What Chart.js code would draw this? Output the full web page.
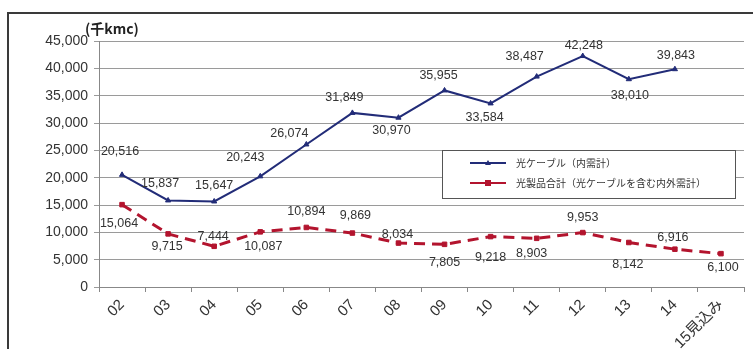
<!DOCTYPE html>
<html lang="ja">
<head>
<meta charset="utf-8">
<title>光ケーブル・光製品 出荷量推移</title>
<script src="https://cdn.jsdelivr.net/npm/chart.js@4.4.1/dist/chart.umd.min.js"></script>
<style>
  html, body { margin: 0; padding: 0; background: #ffffff; }
  #wrap { position: relative; width: 753px; height: 349px; overflow: hidden; }
  #frame {
    position: absolute; left: 7px; top: 12px; right: -4px; bottom: -4px;
    border-top: 2px solid #3a3a3a; border-left: 2px solid #3a3a3a;
    pointer-events: none;
  }
  canvas { position: absolute; left: 0; top: 0; }
</style>
</head>
<body>
<div id="wrap">
  <canvas id="c" width="753" height="349"></canvas>
  <div id="frame"></div>
</div>
<script>
// Fiscal years (last one is an outlook figure)
const categories = ['02', '03', '04', '05', '06', '07', '08', '09', '10', '11', '12', '13', '14', '15見込み'];

// 光ケーブル（内需計）, 千kmc
const cableDomestic = [20516, 15837, 15647, 20243, 26074, 31849, 30970, 35955, 33584, 38487, 42248, 38010, 39843, null];

// 光製品合計（光ケーブルを含む内外需計）, 千kmc
const productsTotal = [15064, 9715, 7444, 10087, 10894, 9869, 8034, 7805, 9218, 8903, 9953, 8142, 6916, 6100];

const seriesNames = ['光ケーブル（内需計）', '光製品合計（光ケーブルを含む内外需計）'];
const unitLabel = '(千kmc)';

// Value-label offsets from each point, in pixels [dx, dy]
const labelOffsets = [
  [[-2,-23],[-8,-17],[0,-16],[-15,-19],[-17,-11],[-8,-15],[-7,13],[-6,-15],[-6,14],[-12,-20],[1,-10],[1,16],[1,-14],[0,0]],
  [[-3,19],[-1,13],[-1,-10],[3,15],[0,-16],[3,-18],[-1,-9],[0,18],[0,21],[-5,15],[0,-15],[-1,22],[-2,-12],[2,14]]
];

const FONT = '"Liberation Sans", Arial, "Noto Sans CJK JP", sans-serif';
const JP_FONT = '"Noto Sans CJK JP", "Liberation Sans", sans-serif';
const fmt = v => v.toLocaleString('en-US');

// Numbers beside every point
const valueLabels = {
  id: 'valueLabels',
  afterDatasetsDraw(chart) {
    const ctx = chart.ctx;
    ctx.save();
    ctx.font = '12.5px ' + FONT;
    ctx.fillStyle = '#333333';
    ctx.textAlign = 'center';
    ctx.textBaseline = 'middle';
    chart.data.datasets.forEach((ds, di) => {
      const meta = chart.getDatasetMeta(di);
      meta.data.forEach((pt, i) => {
        const v = ds.data[i];
        if (v === null || v === undefined) return;
        const [dx, dy] = labelOffsets[di][i];
        ctx.fillText(fmt(v), pt.x + dx, pt.y + dy);
      });
    });
    ctx.restore();
  }
};

// Boxed legend inside the plot, plus the unit caption
const boxLegend = {
  id: 'boxLegend',
  afterDraw(chart) {
    const ctx = chart.ctx;
    const ca = chart.chartArea;
    ctx.save();
    // unit caption
    ctx.font = 'bold 14px ' + JP_FONT;
    ctx.fillStyle = '#222222';
    ctx.textAlign = 'left';
    ctx.textBaseline = 'middle';
    ctx.fillText(unitLabel, ca.left - 14, ca.top - 12);

    // legend box
    const bx = 442, by = 150, bw = 293, bh = 48;
    ctx.fillStyle = '#ffffff';
    ctx.fillRect(bx, by, bw, bh);
    ctx.strokeStyle = '#555555';
    ctx.lineWidth = 1;
    ctx.strokeRect(bx + 0.5, by + 0.5, bw, bh);

    chart.data.datasets.forEach((ds, i) => {
      const y = by + 13 + i * 20;
      ctx.strokeStyle = ds.borderColor;
      ctx.lineWidth = 2;
      ctx.setLineDash([]);
      ctx.beginPath();
      ctx.moveTo(470, y);
      ctx.lineTo(506, y);
      ctx.stroke();
      ctx.fillStyle = ds.borderColor;
      if (ds.pointStyle === 'rect') {
        ctx.fillRect(485, y - 3, 6, 6);
      } else {
        ctx.beginPath();
        ctx.moveTo(488, y - 3);
        ctx.lineTo(491, y + 2);
        ctx.lineTo(485, y + 2);
        ctx.closePath();
        ctx.fill();
      }
      ctx.font = '10px ' + JP_FONT;
      ctx.fillStyle = '#333333';
      ctx.textAlign = 'left';
      ctx.textBaseline = 'middle';
      ctx.fillText(ds.label, 516, y);
    });
    ctx.restore();
  }
};

new Chart(document.getElementById('c'), {
  type: 'line',
  data: {
    labels: categories,
    datasets: [
      {
        label: seriesNames[0],
        data: cableDomestic,
        borderColor: '#222c78',
        backgroundColor: '#222c78',
        borderWidth: 2,
        pointStyle: 'triangle',
        pointRadius: 3,
        pointBorderWidth: 1,
        tension: 0,
        spanGaps: false
      },
      {
        label: seriesNames[1],
        data: productsTotal,
        borderColor: '#b3142e',
        backgroundColor: '#b3142e',
        borderWidth: 3,
        borderDash: [11, 7],
        pointStyle: 'rect',
        pointRadius: 3.2,
        pointBorderWidth: 1,
        tension: 0
      }
    ]
  },
  options: {
    responsive: false,
    animation: false,
    events: [],
    layout: { padding: { left: 0, top: 41, right: 9, bottom: 0 } },
    plugins: {
      legend: { display: false },
      tooltip: { enabled: false }
    },
    scales: {
      x: {
        offset: true,
        grid: {
          offset: true,
          drawOnChartArea: false,
          drawTicks: true,
          tickLength: 5,
          color: '#888888'
        },
        border: { display: true, color: '#888888', width: 1 },
        ticks: {
          minRotation: 45,
          maxRotation: 45,
          autoSkip: false,
          padding: 4,
          color: '#333333',
          font: { family: FONT, size: 15 }
        },
        afterFit(scale) { scale.height = 62; }
      },
      y: {
        min: 0,
        max: 45000,
        grid: {
          color: '#9a9a9a',
          lineWidth: 1,
          tickLength: 5,
          drawTicks: true
        },
        border: { display: true, color: '#888888', width: 1 },
        ticks: {
          stepSize: 5000,
          padding: 6,
          color: '#333333',
          font: { family: FONT, size: 14 },
          callback: v => fmt(v)
        },
        afterFit(scale) { scale.width = 99; }
      }
    }
  },
  plugins: [valueLabels, boxLegend]
});
</script>
</body>
</html>
